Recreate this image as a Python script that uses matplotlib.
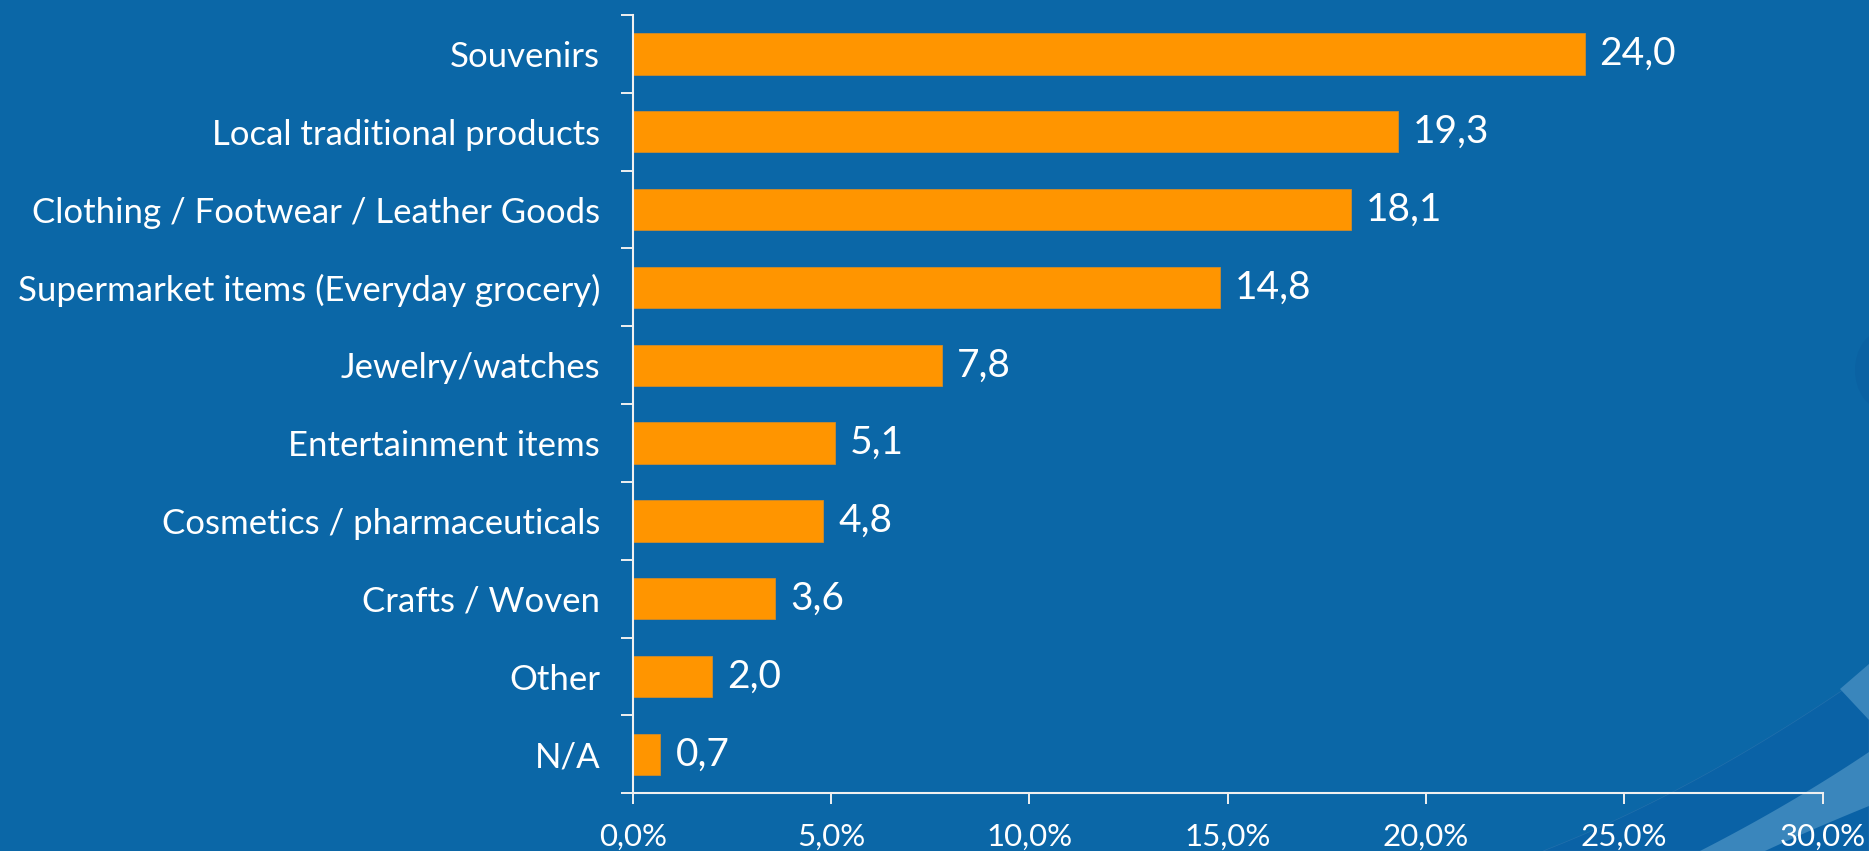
import matplotlib.pyplot as plt
from matplotlib.patches import Polygon, Ellipse
import numpy as np

plt.rcParams['font.family'] = ['Lato', 'DejaVu Sans']

# 数据
categories = ["Souvenirs", "Local traditional products",
              "Clothing / Footwear / Leather Goods",
              "Supermarket items (Everyday grocery)", "Jewelry/watches",
              "Entertainment items", "Cosmetics / pharmaceuticals",
              "Crafts / Woven", "Other", "N/A"]
values = [24.0, 19.3, 18.1, 14.8, 7.8, 5.1, 4.8, 3.6, 2.0, 0.7]
x_ticks = [0, 5, 10, 15, 20, 25, 30]

bg = "#0B67A7"
orange = "#FF9500"
fg = "#FFFFFF"

W, H = 1869, 851
fig = plt.figure(figsize=(W / 100, H / 100), dpi=100, facecolor=bg)


# 右下角的装饰弧线（像素坐标）
def px(pts):
    return [(x / W, 1 - y / H) for x, y in pts]


def curve(p0, c, p1, n=30):
    t = np.linspace(0, 1, n)[:, None]
    p0, c, p1 = map(np.array, (p0, c, p1))
    return list((1 - t) ** 2 * p0 + 2 * (1 - t) * t * c + t ** 2 * p1)


deco = dict(transform=fig.transFigure, zorder=-1)
dark = curve((1543, 851), (1700, 790), (1869, 672)) + [(1869, 851)]
fig.patches.append(Polygon(px(dark), closed=True, facecolor="#0A62A6",
                           edgecolor="#2270AC", lw=0.5, **deco))
band = curve((1700, 851), (1790, 805), (1869, 752)) + \
    curve((1869, 806), (1810, 830), (1765, 851))
fig.patches.append(Polygon(px(band), closed=True, facecolor="#3A86BC",
                           edgecolor="none", **deco))
tri = [(1840, 689), (1869, 664), (1869, 720)]
fig.patches.append(Polygon(px(tri), closed=True, facecolor="#3A86BC",
                           edgecolor="none", **deco))
fig.patches.append(Ellipse((1885 / W, 1 - 370 / H), 60 / W, 80 / H,
                           facecolor="#0A62A3", edgecolor="none", **deco))

ax = fig.add_axes([632.7 / W, 1 - 793.3 / H, (1822.5 - 632.7) / W, (793.3 - 15) / H])
ax.set_facecolor("none")

y = np.arange(len(categories))
ax.barh(y, values, height=0.53, color=orange, edgecolor="#D08A2A", linewidth=0.6, zorder=2)

for yi, v in zip(y, values):
    ax.text(v + 0.38, yi, f"{v:.1f}".replace(".", ","), color=fg,
            fontsize=28, va="center", ha="left")

ax.set_xlim(0, 30)
ax.set_ylim(len(categories) - 0.5, -0.5)
ax.set_xticks(x_ticks)
ax.set_xticklabels([f"{t:.1f}%".replace(".", ",") for t in x_ticks])

# y 轴刻度放在类别之间，标签放在类别中心
ax.set_yticks(np.arange(-0.5, len(categories), 1))
ax.set_yticklabels([])
ax.set_yticks(y, minor=True)
ax.set_yticklabels(categories, minor=True)
ax.tick_params(axis="y", which="minor", length=0, pad=23.5, labelsize=25, labelcolor=fg)
ax.tick_params(axis="y", which="major", length=9, width=1.4, color="#F0F0F0")
ax.tick_params(axis="x", length=8, width=1.4, color="#F0F0F0", pad=13,
               labelsize=22.5, labelcolor=fg)

for s in ["top", "right"]:
    ax.spines[s].set_visible(False)
for s in ["left", "bottom"]:
    ax.spines[s].set_color("#F0F0F0")
    ax.spines[s].set_linewidth(1.5)

plt.savefig("out.png", dpi=100, facecolor=bg)
